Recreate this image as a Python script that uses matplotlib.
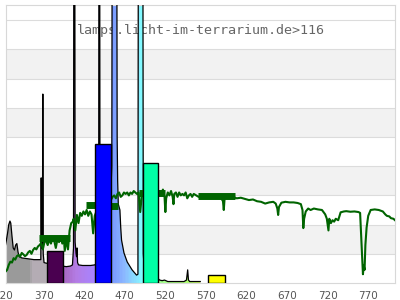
import numpy as np
import matplotlib
matplotlib.use("Agg")
import matplotlib.pyplot as plt
from matplotlib.colors import LinearSegmentedColormap
from matplotlib.patches import Polygon
from matplotlib.transforms import ScaledTranslation

# lamp spectrum (black outline, coloured fill)
spec_nm = [320, 321, 322.5, 324, 325.5, 326.5, 328, 329.5, 331, 332.5,
           334, 335.5, 337, 340, 345, 350, 355, 360, 363.5, 364.0,
           364.5, 365.5, 366.0, 366.5, 367.5, 370, 375, 380, 385, 390,
           395, 400, 402.5, 403.8, 404.3, 405.3, 405.8, 407, 407.6, 408.2,
           408.8, 410, 415, 420, 425, 430, 434, 434.8, 435.2, 436.0,
           436.5, 438, 442, 446, 449, 451.0, 451.6, 457.0, 457.6, 458.2,
           459, 461, 462, 463, 466, 470, 476, 481.5, 483.2, 483.8,
           489.2, 489.8, 491, 495, 500, 505, 508, 510, 513, 516,
           520, 530, 540, 543, 544.5, 545.5, 547, 550, 555, 560]
spec_val = [1.3, 1.45, 1.7, 2.0, 2.12, 2.05, 1.6, 1.2, 1.13, 1.3,
            1.35, 1.05, 0.9, 0.86, 0.84, 0.82, 0.8, 0.8, 0.8, 3.6,
            1.2, 1.3, 6.47, 1.0, 0.7, 0.68, 0.66, 0.64, 0.6, 0.58,
            0.56, 0.58, 0.62, 1.2, 15, 15, 1.4, 1.0, 0.9, 1.2,
            0.7, 0.62, 0.6, 0.6, 0.6, 0.62, 0.7, 1.2, 15, 15,
            1.1, 0.8, 0.9, 1.2, 2.5, 4.0, 15, 15, 5.0, 3.5,
            2.7, 2.5, 1.9, 1.47, 1.03, 0.72, 0.45, 0.27, 0.3, 15,
            15, 1.0, 0.5, 0.3, 0.25, 0.2, 0.15, 0.1, 0.08, 0.1,
            0.05, 0.05, 0.05, 0.1, 0.45, 0.1, 0.05, 0.05, 0.05, 0.05]

# colour of the fill by wavelength
cstop_nm = [320, 349, 351, 369, 372, 392, 405, 428, 440, 450, 465,
            482, 487, 495, 508, 545, 565, 580, 600, 650, 700, 800]
cstop_col = ['#9a9a9a', '#9a9a9a', '#b4acb4', '#b4acb4', '#8848a8',
             '#a868c4', '#b47ce4', '#a884ff', '#7c8cff', '#7898ff',
             '#8cb8ff', '#88e8ff', '#80ffff', '#80ffd0', '#a0ff90',
             '#b0ff70', '#e0ff60', '#ffff40', '#ffc040', '#ff6040',
             '#ff4040', '#c02020']

# daylight reference (green line)
sun_nm = [320, 322, 324, 326, 328, 330, 332, 334, 336, 338,
          340, 342, 344, 346, 348, 350, 352, 354, 356, 358,
          360, 362, 364, 366, 368, 370, 372, 374, 376, 378,
          380, 382, 384, 386, 388, 390, 392, 393, 395, 397,
          399, 401, 403, 404, 406, 408, 410, 412, 414, 416,
          418, 420, 422, 424, 426, 428, 430, 432, 434, 436,
          438, 440, 445, 450, 452, 454, 456, 458, 460, 462,
          464, 466, 468, 470, 472, 474, 476, 478, 480, 482,
          484, 486, 488, 490, 495, 500, 505, 508, 510, 512,
          514, 516, 517, 518, 520, 522, 524, 526, 527, 528,
          530, 532, 534, 536, 538, 540, 542, 544, 546, 548,
          550, 552, 555, 558, 562, 566, 570, 575, 580, 585,
          588, 589, 590, 595, 600, 605, 610, 615, 620, 625,
          630, 635, 640, 645, 650, 653, 655, 656, 657, 660,
          665, 670, 675, 680, 684, 686, 687, 688, 690, 693,
          696, 700, 705, 710, 714, 716, 718, 719, 721, 723,
          725, 727, 730, 733, 737, 740, 745, 750, 755, 757,
          758, 759.5, 760.5, 761.5, 762.5, 763.5, 765, 767, 770, 775,
          780, 785, 788, 790, 793, 795, 798, 800]
sun_val = [0.39, 0.45, 0.62, 0.73, 0.7, 0.85, 0.8, 0.92, 0.96, 0.9,
           1.03, 0.98, 0.92, 0.96, 1.05, 1.1, 1.0, 1.13, 1.2, 1.15,
           1.25, 1.3, 1.37, 1.15, 1.4, 1.45, 1.3, 1.5, 1.35, 1.55,
           1.45, 1.2, 1.5, 1.4, 1.6, 1.35, 1.5, 1.1, 1.5, 1.15,
           1.8, 2.05, 2.1, 2.2, 1.8, 2.33, 2.05, 2.4, 2.3, 2.45,
           2.35, 2.5, 2.3, 2.45, 2.35, 1.7, 2.3, 2.45, 2.15, 2.5,
           2.6, 2.7, 2.8, 2.85, 2.95, 3.0, 2.9, 3.05, 3.1, 2.95,
           3.0, 3.1, 3.05, 3.1, 3.0, 3.1, 3.05, 3.15, 3.1, 3.05,
           3.1, 2.43, 3.0, 3.05, 3.1, 3.05, 3.1, 3.0, 3.15, 3.05,
           3.2, 2.95, 2.43, 2.9, 3.1, 3.0, 3.15, 2.95, 2.7, 3.05,
           3.1, 2.95, 3.1, 3.0, 3.05, 3.0, 3.1, 2.9, 3.0, 3.05,
           2.95, 3.05, 3.0, 2.95, 3.0, 2.95, 2.98, 2.95, 3.0, 2.95,
           2.8, 2.5, 2.9, 2.98, 2.95, 2.9, 2.92, 2.88, 2.84, 2.86,
           2.8, 2.78, 2.72, 2.76, 2.78, 2.72, 2.55, 2.33, 2.6, 2.75,
           2.78, 2.76, 2.76, 2.74, 2.7, 2.5, 1.88, 2.2, 2.45, 2.55,
           2.5, 2.55, 2.52, 2.5, 2.35, 2.2, 1.8, 2.2, 2.05, 2.15,
           2.1, 2.2, 2.15, 2.42, 2.45, 2.46, 2.44, 2.45, 2.43, 2.4,
           1.8, 0.9, 0.3, 0.6, 0.45, 1.3, 1.9, 2.3, 2.5, 2.52,
           2.5, 2.45, 2.35, 2.3, 2.28, 2.22, 2.2, 2.15]

# coarse daylight blocks (thick green segments)
blk_lo = [361, 419, 450, 484, 557]
blk_hi = [400, 430, 459, 517, 603]
blk_val = [1.55, 2.67, 2.65, 3.08, 2.97]

# band bars
bar_lo = [371, 430, 489, 570]
bar_hi = [391, 450, 508, 591]
bar_val = [1.1, 4.75, 4.12, 0.27]
bar_col = ['#4a0050', '#0000ff', '#00ffa6', '#ffff00']

ticks = [320, 370, 420, 470, 520, 570, 620, 670, 720, 770]

fig = plt.figure(figsize=(4, 3), dpi=100)
ax = fig.add_axes([5.5 / 400, 17 / 300, 389.5 / 400, 278 / 300])

# alternating background bands
for lo in [1, 3, 5, 7]:
    ax.axhspan(lo, lo + 1, color='#f2f2f2', zorder=0, lw=0)
for g in range(1, 10):
    ax.axhline(g, color='#dcdcdc', lw=0.8, zorder=0.5)

ax.text(0.502, (283 - 34) / 278, 'lamps.licht-im-terrarium.de>116',
        transform=ax.transAxes, ha='center', va='baseline',
        family='DejaVu Sans Mono', fontsize=9.6, color='#666666', zorder=1)

# spectrum fill coloured by wavelength, clipped to the spectrum shape
pos = [(n - 320) / 480 for n in cstop_nm]
cmap = LinearSegmentedColormap.from_list('spec', list(zip(pos, cstop_col)))
grad = np.linspace(320, 800, 1921)[None, :]
im = ax.imshow(grad, extent=[320, 800, 0, 9.5], aspect='auto', origin='lower',
               cmap=cmap, vmin=320, vmax=800, zorder=2, interpolation='nearest')
sx = np.array(spec_nm)
sy = np.array(spec_val)
verts = np.column_stack([np.r_[sx[0], sx, sx[-1]], np.r_[0, sy, 0]])
clip = Polygon(verts, closed=True, facecolor='none', edgecolor='none',
               transform=ax.transData)
ax.add_patch(clip)
im.set_clip_path(clip)
ax.plot(sx, sy, color='black', lw=0.9, zorder=3)

# daylight line + blocks
ax.plot(sun_nm, sun_val, color='#006400', lw=1.5, zorder=4)
ax.hlines(blk_val, blk_lo, blk_hi, color='#006400', lw=5, zorder=4)

# bars
ax.bar(bar_lo, bar_val, width=np.array(bar_hi) - np.array(bar_lo),
       align='edge', color=bar_col, edgecolor='black', lw=1, zorder=5)

ax.set_xlim(320, 800)
ax.set_ylim(0, 9.52)
ax.set_xticks(ticks)
ax.set_xticklabels([str(t) for t in ticks])
ax.set_yticks([])
ax.tick_params(axis='x', length=0, pad=5.5, labelsize=7.5, labelcolor='#555555')
shift = ScaledTranslation(-2.5 / 100, 0, fig.dpi_scale_trans)
for lab in ax.get_xticklabels():
    lab.set_transform(lab.get_transform() + shift)
for s in ax.spines.values():
    s.set_color('#d8d8d8')
    s.set_linewidth(0.8)

fig.savefig('out.png', dpi=100)
